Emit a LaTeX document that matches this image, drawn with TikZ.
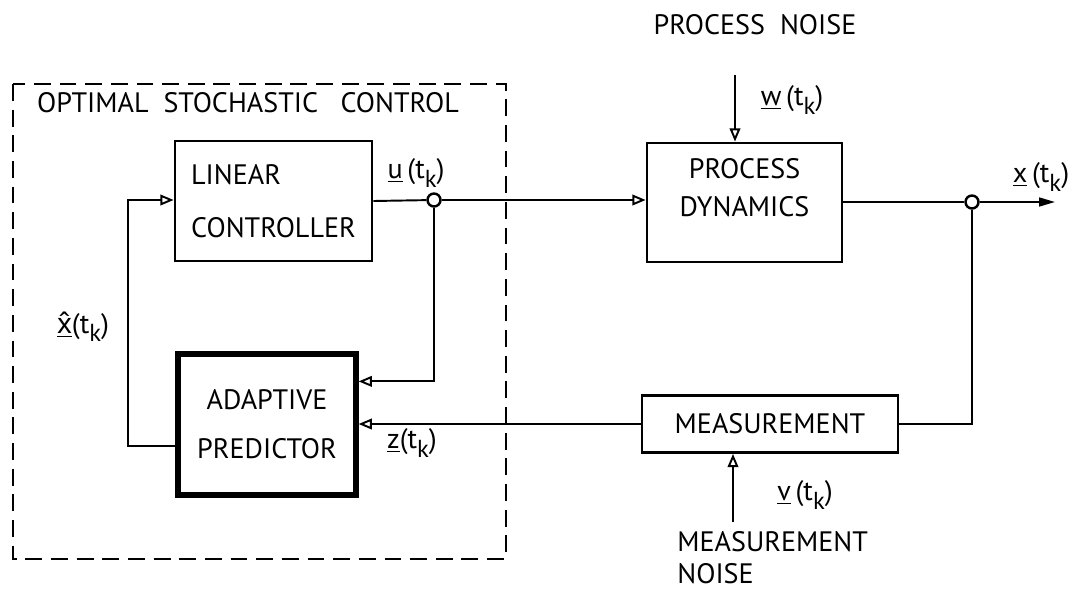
\documentclass[tikz,border=0pt]{standalone}
\usepackage{fontspec}
\setmainfont{PT Sans}
\newfontfamily\accfont{Noto Sans}
\usetikzlibrary{arrows.meta, positioning, calc}
\newcommand{\tk}{(t\raisebox{-0.6ex}{\fontsize{14}{14}\selectfont k})}
\tikzset{
    block/.style = {rectangle, draw=black, line width=1.6pt, align=center, inner sep=0pt},
    heavyblock/.style = {block, line width=3pt},
    junction/.style = {circle, draw=black, line width=1.4pt, fill=white, inner sep=0pt, minimum size=0.26cm},
    signal/.style = {line width=1.1pt},
    arrow/.style = {signal, -{Triangle[open, length=7.5pt, width=6pt, line width=1.1pt]}},
    outarrow/.style = {signal, -{Triangle[length=9pt, width=5pt]}},
    lbl/.style = {inner sep=0pt}
}

\begin{document}
\begin{tikzpicture}[x=0.02cm, y=-0.02cm, font=\fontsize{16}{19}\selectfont]
\useasboundingbox (0,0) rectangle (1091,589);

% controller part
\draw[line width=1.5pt, dash pattern=on 9.6pt off 5pt] (13,84) rectangle (506,559);
\node (title) [lbl] at (248,103) {OPTIMAL\ \ STOCHASTIC\ \ \ CONTROL};

\node (lin) [block, minimum width=3.94cm, minimum height=2.4cm, align=left] at (273.5,201) {LINEAR\\[11pt]CONTROLLER};
\node (pred) [heavyblock, minimum width=3.56cm, minimum height=2.82cm] at (267,424.5) {ADAPTIVE\\[9pt]PREDICTOR};
\node (uj) [junction] at (434,200) {};

% plant part
\node (proc) [block, minimum width=3.9cm, minimum height=2.38cm] at (744.5,202.5) {PROCESS\\[3pt]DYNAMICS\\[-2pt]\mbox{}};
\node (meas) [block, minimum width=5.12cm, minimum height=1.14cm] at (770,424) {MEASUREMENT};
\node (xj) [junction] at (972,202) {};

\node (pnoise) [lbl] at (755,25) {PROCESS\ \ NOISE};
\node (mnoise) [lbl, anchor=north west, align=left] at (677,531) {MEASUREMENT\\[-1pt]NOISE};

\coordinate (wtop) at (735,75);
\coordinate (vbot) at (733,522);
\coordinate (xout) at (1055,202);
\coordinate (fbk) at (128,200);

% connections
\draw[signal] (lin.east) -- (uj);
\draw[arrow] (uj) -- (proc.west |- uj);
\draw[arrow] (uj) |- ($(pred.north east)+(0,30)$);
\draw[arrow] ($(pred.south west)+(0,-52)$) -| (fbk) -- (lin.west |- fbk);
\draw[signal] (proc.east |- xj) -- (xj);
\draw[outarrow] (xj) -- (xout);
\draw[signal] (meas.east) -| (xj);
\draw[arrow] (meas.west) -- (pred.east |- meas.west);
\draw[arrow] (wtop) -- (wtop |- proc.north);
\draw[arrow] (vbot) -- (vbot |- meas.south);

% signal labels
\node (ulbl) [lbl] at (416,173) {\underline{u}\,\tk};
\node (xhlbl) [lbl] at (83,327) {\underline{{\accfont x̂}}\tk};
\node (zlbl) [lbl] at (412,443) {\underline{z}\tk};
\node (wlbl) [lbl] at (792,100) {\underline{w}\,\tk};
\node (xlbl) [lbl] at (1041,177) {\underline{x}\,\tk};
\node (vlbl) [lbl] at (805,495) {\underline{v}\,\tk};
\end{tikzpicture}
\end{document}
